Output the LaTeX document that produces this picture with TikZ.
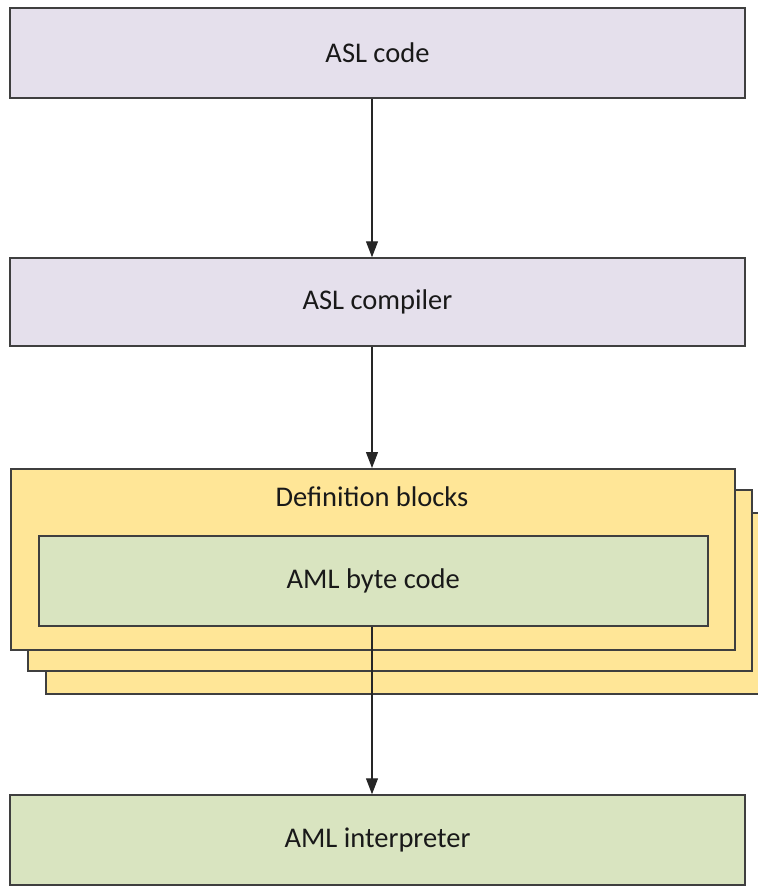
\documentclass[tikz,border=0pt]{standalone}
\usepackage{fontspec}
\setmainfont{Carlito}
\usetikzlibrary{arrows.meta}
\definecolor{lav}{HTML}{E5E0EC}
\definecolor{yel}{HTML}{FFE697}
\definecolor{grn}{HTML}{D9E4C0}
\definecolor{edge}{HTML}{3F3F3F}
\tikzset{
  box/.style={draw=edge, line width=1.5pt, inner sep=0pt, font=\fontsize{28.5}{32}\selectfont, text=black!90},
  flow/.style={draw=black!85, line width=1.2pt, -{Triangle[length=16pt,width=12pt]}}
}
\begin{document}
\begin{tikzpicture}[x=1pt,y=-1pt]
\useasboundingbox (0,0) rectangle (758,892);
% ASL code
\node[box, fill=lav, minimum width=735pt, minimum height=90pt] (asl) at (377.5,53) {ASL code};
% ASL compiler
\node[box, fill=lav, minimum width=735pt, minimum height=88pt] (comp) at (377.5,302) {ASL compiler};
% stacked definition blocks (back to front)
\node[box, fill=yel, minimum width=740pt, minimum height=181pt] (def3) at (416,603.5) {};
\node[box, fill=yel, minimum width=724pt, minimum height=181pt] (def2) at (390,580.5) {};
\node[box, fill=yel, minimum width=724pt, minimum height=181pt, anchor=north west] (def1) at (10,468) {};
\node[box, draw=none] (deflabel) at (372,497) {Definition blocks};
% AML byte code
\node[box, fill=grn, minimum width=669pt, minimum height=90pt, anchor=north west] (aml) at (38,535) {AML byte code};
% AML interpreter
\node[box, fill=grn, minimum width=735pt, minimum height=90pt] (interp) at (377.5,840) {AML interpreter};
% connectors
\draw[flow] (asl.south -| 372,0) -- (comp.north -| 372,0);
\draw[flow] (comp.south -| 372,0) -- (def1.north -| 372,0);
\draw[flow] (aml.south -| 372,0) -- (interp.north -| 372,0);
\end{tikzpicture}
\end{document}
